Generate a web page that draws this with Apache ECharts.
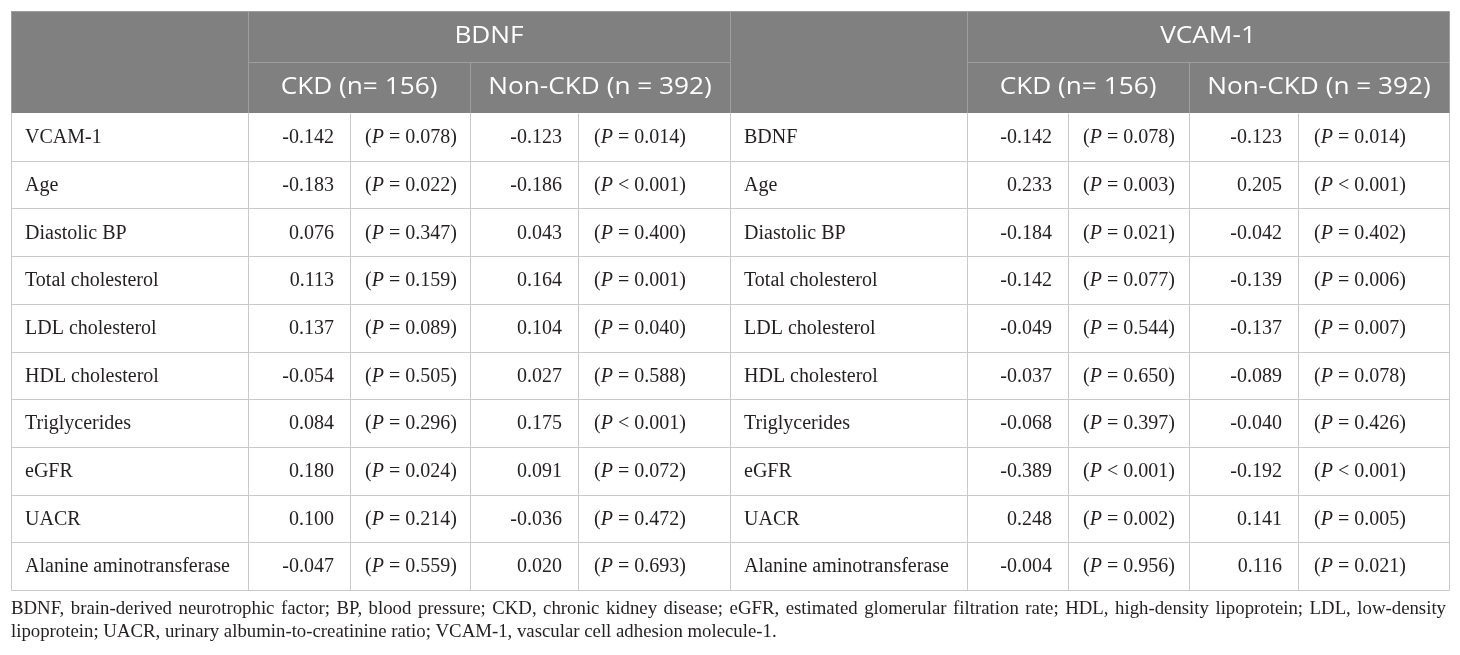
<!DOCTYPE html>
<html><head><meta charset="utf-8">
<script src="https://cdn.jsdelivr.net/npm/echarts@6/dist/echarts.min.js"></script>
<style>html,body{margin:0;padding:0;background:#fff}#main{width:1460px;height:655px}</style>
</head><body><div id="main"></div>
<script>
// ---------- data ----------
const groupTitles = ['BDNF', 'VCAM-1'];
const subgroupTitles = ['CKD (n= 156)', 'Non-CKD (n = 392)'];
const rowLabelsBDNF = ['VCAM-1', 'Age', 'Diastolic BP', 'Total cholesterol', 'LDL cholesterol', 'HDL cholesterol', 'Triglycerides', 'eGFR', 'UACR', 'Alanine aminotransferase'];
const rowLabelsVCAM = ['BDNF', 'Age', 'Diastolic BP', 'Total cholesterol', 'LDL cholesterol', 'HDL cholesterol', 'Triglycerides', 'eGFR', 'UACR', 'Alanine aminotransferase'];
const bdnfCkdR = [-0.142, -0.183, 0.076, 0.113, 0.137, -0.054, 0.084, 0.180, 0.100, -0.047];
const bdnfCkdP = ['= 0.078', '= 0.022', '= 0.347', '= 0.159', '= 0.089', '= 0.505', '= 0.296', '= 0.024', '= 0.214', '= 0.559'];
const bdnfNonCkdR = [-0.123, -0.186, 0.043, 0.164, 0.104, 0.027, 0.175, 0.091, -0.036, 0.020];
const bdnfNonCkdP = ['= 0.014', '< 0.001', '= 0.400', '= 0.001', '= 0.040', '= 0.588', '< 0.001', '= 0.072', '= 0.472', '= 0.693'];
const vcamCkdR = [-0.142, 0.233, -0.184, -0.142, -0.049, -0.037, -0.068, -0.389, 0.248, -0.004];
const vcamCkdP = ['= 0.078', '= 0.003', '= 0.021', '= 0.077', '= 0.544', '= 0.650', '= 0.397', '< 0.001', '= 0.002', '= 0.956'];
const vcamNonCkdR = [-0.123, 0.205, -0.042, -0.139, -0.137, -0.089, -0.040, -0.192, 0.141, 0.116];
const vcamNonCkdP = ['= 0.014', '< 0.001', '= 0.402', '= 0.006', '= 0.007', '= 0.078', '= 0.426', '< 0.001', '= 0.005', '= 0.021'];
const footnoteLines = [
  'BDNF, brain-derived neurotrophic factor; BP, blood pressure; CKD, chronic kidney disease; eGFR, estimated glomerular filtration rate; HDL, high-density lipoprotein; LDL, low-density',
  'lipoprotein; UACR, urinary albumin-to-creatinine ratio; VCAM-1, vascular cell adhesion molecule-1.'
];

// ---------- layout ----------
const COL = [11, 248, 350, 470, 578, 730, 967, 1068, 1189, 1298, 1449];
const HEAD_TOP = 11, HEAD_MID = 62, HEAD_BOT = 113, ROW_H = 47.7;
const HEAD_FILL = '#808080', HEAD_LINE = '#9e9e9e', BODY_LINE = '#c9c9c9', TEXT = '#231f20';
const SERIF = '"Liberation Serif", "Times New Roman", serif';
const SANS = '"Open Sans", "Noto Sans", sans-serif';
const BODY_SIZE = 20, HEAD_SIZE = 23, HEAD_SCALE = 1.14, NOTE_SIZE = 18.8;

const fmtR = v => v.toFixed(3);
const crisp = v => Math.round(v) + 0.5;

function lineEl(a, b, color) {
  return { type: 'line', shape: { x1: crisp(a[0]), y1: crisp(a[1]), x2: crisp(b[0]), y2: crisp(b[1]) },
           style: { stroke: color, lineWidth: 1 }, silent: true };
}
function txt(x, y, text, align) {
  return { type: 'text', x: x, y: y, silent: true,
    style: { text: text, fill: TEXT, font: BODY_SIZE + 'px ' + SERIF, textAlign: align, textVerticalAlign: 'middle' } };
}
function pText(x, y, s) {
  return { type: 'text', x: x, y: y, silent: true,
    style: { text: '{n|(}{i|P}{n| ' + s + ')}', textAlign: 'left', textVerticalAlign: 'middle',
      rich: { n: { fill: TEXT, fontSize: BODY_SIZE, fontFamily: SERIF },
              i: { fill: TEXT, fontSize: BODY_SIZE, fontFamily: SERIF, fontStyle: 'italic' } } } };
}

function renderHeader(params, api) {
  const c = (x, y) => api.coord([x, y]);
  const tl = c(COL[0], HEAD_TOP), br = c(COL[10], HEAD_BOT);
  const ch = [];
  ch.push({ type: 'rect', shape: { x: tl[0], y: tl[1], width: br[0] - tl[0], height: br[1] - tl[1] }, style: { fill: HEAD_FILL }, silent: true });
  ch.push(lineEl(c(COL[1], HEAD_MID), c(COL[5], HEAD_MID), HEAD_LINE));
  ch.push(lineEl(c(COL[6], HEAD_MID), c(COL[10], HEAD_MID), HEAD_LINE));
  [COL[1], COL[5], COL[6]].forEach(x => ch.push(lineEl(c(x, HEAD_TOP), c(x, HEAD_BOT), HEAD_LINE)));
  [COL[3], COL[8]].forEach(x => ch.push(lineEl(c(x, HEAD_MID), c(x, HEAD_BOT), HEAD_LINE)));
  ch.push(lineEl(c(COL[0], HEAD_TOP), c(COL[10], HEAD_TOP), HEAD_LINE));
  ch.push(lineEl(c(COL[0], HEAD_TOP), c(COL[0], HEAD_BOT), HEAD_LINE));
  ch.push(lineEl(c(COL[10], HEAD_TOP), c(COL[10], HEAD_BOT), HEAD_LINE));
  const yTop = c(0, (HEAD_TOP + HEAD_MID) / 2)[1];
  const ySub = c(0, (HEAD_MID + HEAD_BOT) / 2)[1];
  const hs = (x, y, t) => ({ type: 'text', x: x, y: y, scaleX: HEAD_SCALE, silent: true,
    style: { text: t, fill: '#ffffff', font: HEAD_SIZE + 'px ' + SANS, textAlign: 'center', textVerticalAlign: 'middle' } });
  ch.push(hs(c((COL[1] + COL[5]) / 2, 0)[0], yTop, groupTitles[0]));
  ch.push(hs(c((COL[6] + COL[10]) / 2, 0)[0], yTop, groupTitles[1]));
  ch.push(hs(c((COL[1] + COL[3]) / 2, 0)[0], ySub, subgroupTitles[0]));
  ch.push(hs(c((COL[3] + COL[5]) / 2, 0)[0], ySub, subgroupTitles[1]));
  ch.push(hs(c((COL[6] + COL[8]) / 2, 0)[0], ySub, subgroupTitles[0]));
  ch.push(hs(c((COL[8] + COL[10]) / 2, 0)[0], ySub, subgroupTitles[1]));
  return { type: 'group', children: ch };
}

function renderRow(params, api) {
  const i = api.value(0);
  const c = (x, y) => api.coord([x, y]);
  const y0 = HEAD_BOT + i * ROW_H, y1 = y0 + ROW_H;
  const ch = [];
  ch.push(lineEl(c(COL[0], y1), c(COL[10], y1), BODY_LINE));
  COL.forEach(x => ch.push(lineEl(c(x, y0), c(x, y1), BODY_LINE)));
  const cy = c(0, (y0 + y1) / 2)[1] + 1;
  const X = k => c(COL[k], 0)[0];
  ch.push(txt(X(0) + 14, cy, rowLabelsBDNF[i], 'left'));
  ch.push(txt(X(2) - 16, cy, fmtR(bdnfCkdR[i]), 'right'));
  ch.push(pText(X(2) + 15, cy, bdnfCkdP[i]));
  ch.push(txt(X(4) - 16, cy, fmtR(bdnfNonCkdR[i]), 'right'));
  ch.push(pText(X(4) + 16, cy, bdnfNonCkdP[i]));
  ch.push(txt(X(5) + 14, cy, rowLabelsVCAM[i], 'left'));
  ch.push(txt(X(7) - 16, cy, fmtR(vcamCkdR[i]), 'right'));
  ch.push(pText(X(7) + 15, cy, vcamCkdP[i]));
  ch.push(txt(X(9) - 16, cy, fmtR(vcamNonCkdR[i]), 'right'));
  ch.push(pText(X(9) + 16, cy, vcamNonCkdP[i]));
  return { type: 'group', children: ch };
}

// footnote: line 1 justified across the table width
const meas = document.createElement('canvas').getContext('2d');
meas.font = NOTE_SIZE + 'px ' + SERIF;
function footnoteElements() {
  const els = [];
  const ys = [610, 633];
  footnoteLines.forEach((line, li) => {
    if (li === 0) {
      const words = line.split(' ');
      const widths = words.map(w => meas.measureText(w).width);
      const total = widths.reduce((a, b) => a + b, 0);
      const gap = (COL[10] - 3 - COL[0] - total) / (words.length - 1);
      let x = COL[0];
      words.forEach((w, k) => {
        els.push({ type: 'text', left: x, top: ys[li] - NOTE_SIZE * 0.55, silent: true,
          style: { text: w, fill: TEXT, font: NOTE_SIZE + 'px ' + SERIF } });
        x += widths[k] + gap;
      });
    } else {
      els.push({ type: 'text', left: COL[0], top: ys[li] - NOTE_SIZE * 0.55, silent: true,
        style: { text: line, fill: TEXT, font: NOTE_SIZE + 'px ' + SERIF } });
    }
  });
  return els;
}

const chart = echarts.init(document.getElementById('main'), null, { renderer: 'canvas' });
chart.setOption({
  animation: false,
  backgroundColor: '#ffffff',
  grid: { left: 0, right: 0, top: 0, bottom: 0 },
  xAxis: { type: 'value', min: 0, max: 1460, show: false },
  yAxis: { type: 'value', min: 0, max: 655, inverse: true, show: false },
  graphic: footnoteElements(),
  series: [
    { type: 'custom', renderItem: renderHeader, data: [[0]], silent: true },
    { type: 'custom', renderItem: renderRow, data: rowLabelsBDNF.map((_, i) => [i]), silent: true }
  ]
});
</script></body></html>
